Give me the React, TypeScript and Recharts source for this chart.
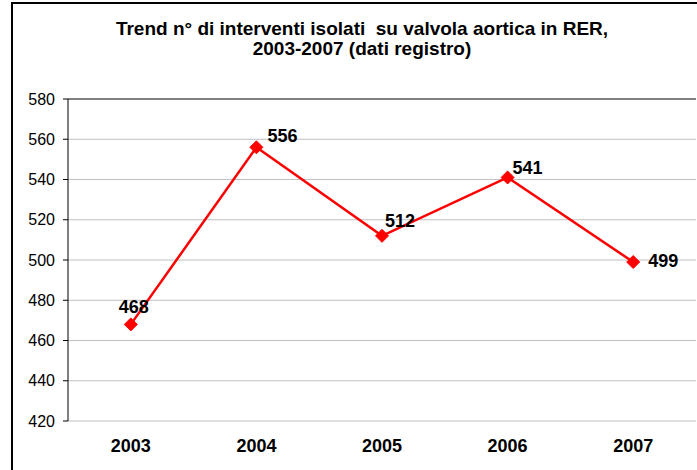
import React from 'react';
import {
  LineChart,
  Line,
  XAxis,
  YAxis,
  CartesianGrid,
  ReferenceLine,
  LabelList,
} from 'recharts';

const years = ['2003', '2004', '2005', '2006', '2007'];
const interventions = [468, 556, 512, 541, 499];
const yTicks = [420, 440, 460, 480, 500, 520, 540, 560, 580];
const titleLines = [
  'Trend n° di interventi isolati  su valvola aortica in RER,',
  '2003-2007 (dati registro)',
];

const data = years.map((y, i) => ({ year: y, value: interventions[i] }));

// label placement relative to each point (style, not data)
const labelOffsets = [
  { dx: 3, dy: -11 },
  { dx: 26, dy: -5 },
  { dx: 18, dy: -9 },
  { dx: 20, dy: -3 },
  { dx: 30, dy: 5 },
];

const FONT = '"Liberation Sans", Arial, Helvetica, sans-serif';
const RED = '#ff0000';

const Diamond = (props: any) => {
  const { cx, cy } = props;
  if (cx == null || cy == null) return null;
  const r = 6.5;
  return (
    <polygon
      points={`${cx},${cy - r} ${cx + r},${cy} ${cx},${cy + r} ${cx - r},${cy}`}
      fill={RED}
      stroke={RED}
    />
  );
};

const ValueLabel = (props: any) => {
  const { x, y, value, index } = props;
  const o = labelOffsets[index] || { dx: 0, dy: -10 };
  return (
    <text
      x={x + o.dx}
      y={y + o.dy}
      textAnchor="middle"
      fontFamily={FONT}
      fontSize={18}
      fontWeight="bold"
      fill="#000"
    >
      {value}
    </text>
  );
};

export default function App() {
  return (
    <div
      style={{
        position: 'absolute',
        left: 0,
        top: 0,
        width: 697,
        height: 470,
        overflow: 'hidden',
        background: '#fff',
        fontFamily: FONT,
      }}
    >
      <div
        style={{
          position: 'absolute',
          left: 11,
          top: 2,
          width: 800,
          height: 600,
          border: '2px solid #000',
          boxSizing: 'border-box',
        }}
      />
      <svg
        width={697}
        height={80}
        style={{ position: 'absolute', left: 0, top: 0 }}
      >
        {titleLines.map((t, i) => (
          <text
            key={i}
            x={362}
            y={35 + i * 20}
            textAnchor="middle"
            fontFamily={FONT}
            fontSize={19}
            fontWeight="bold"
            fill="#000"
            style={{ whiteSpace: 'pre' }}
          >
            {t}
          </text>
        ))}
      </svg>
      <div style={{ position: 'absolute', left: 0, top: 0 }}>
        <LineChart
          width={697}
          height={470}
          data={data}
          margin={{ top: 99, right: 1, left: 12, bottom: 19 }}
          style={{ fontFamily: FONT }}
        >
          <CartesianGrid vertical={false} stroke="#c0c0c0" strokeWidth={1} />
          <XAxis
            xAxisId="frame"
            type="number"
            domain={[0, 5]}
            ticks={[0, 1, 2, 3, 4, 5]}
            allowDataOverflow
            height={0}
            tick={false}
            tickSize={5}
            tickLine={{ stroke: '#404040', strokeWidth: 1.5 }}
            axisLine={{ stroke: '#404040', strokeWidth: 2.5 }}
          />
          <XAxis
            dataKey="year"
            scale="band"
            height={30}
            axisLine={false}
            tickLine={false}
            tickSize={6}
            tickMargin={12}
            tick={{ fontSize: 18, fontWeight: 'bold', fill: '#000', fontFamily: FONT }}
          />
          <YAxis
            domain={[420, 580]}
            ticks={yTicks}
            width={56}
            interval={0}
            allowDataOverflow
            tickSize={5}
            tickMargin={8}
            axisLine={{ stroke: '#000', strokeWidth: 1 }}
            tickLine={{ stroke: '#000' }}
            tick={{ fontSize: 16, fill: '#000', fontFamily: FONT }}
          />
          <YAxis
            yAxisId="r"
            orientation="right"
            domain={[420, 580]}
            allowDataOverflow
            width={0}
            tick={false}
            tickLine={false}
            axisLine={{ stroke: '#c8c8c8', strokeWidth: 1 }}
          />
          <ReferenceLine y={580} stroke="#808080" strokeWidth={2} />
          <Line
            dataKey="value"
            stroke={RED}
            strokeWidth={2.5}
            dot={<Diamond />}
            activeDot={false}
            isAnimationActive={false}
          >
            <LabelList dataKey="value" content={<ValueLabel />} />
          </Line>
        </LineChart>
      </div>
    </div>
  );
}
